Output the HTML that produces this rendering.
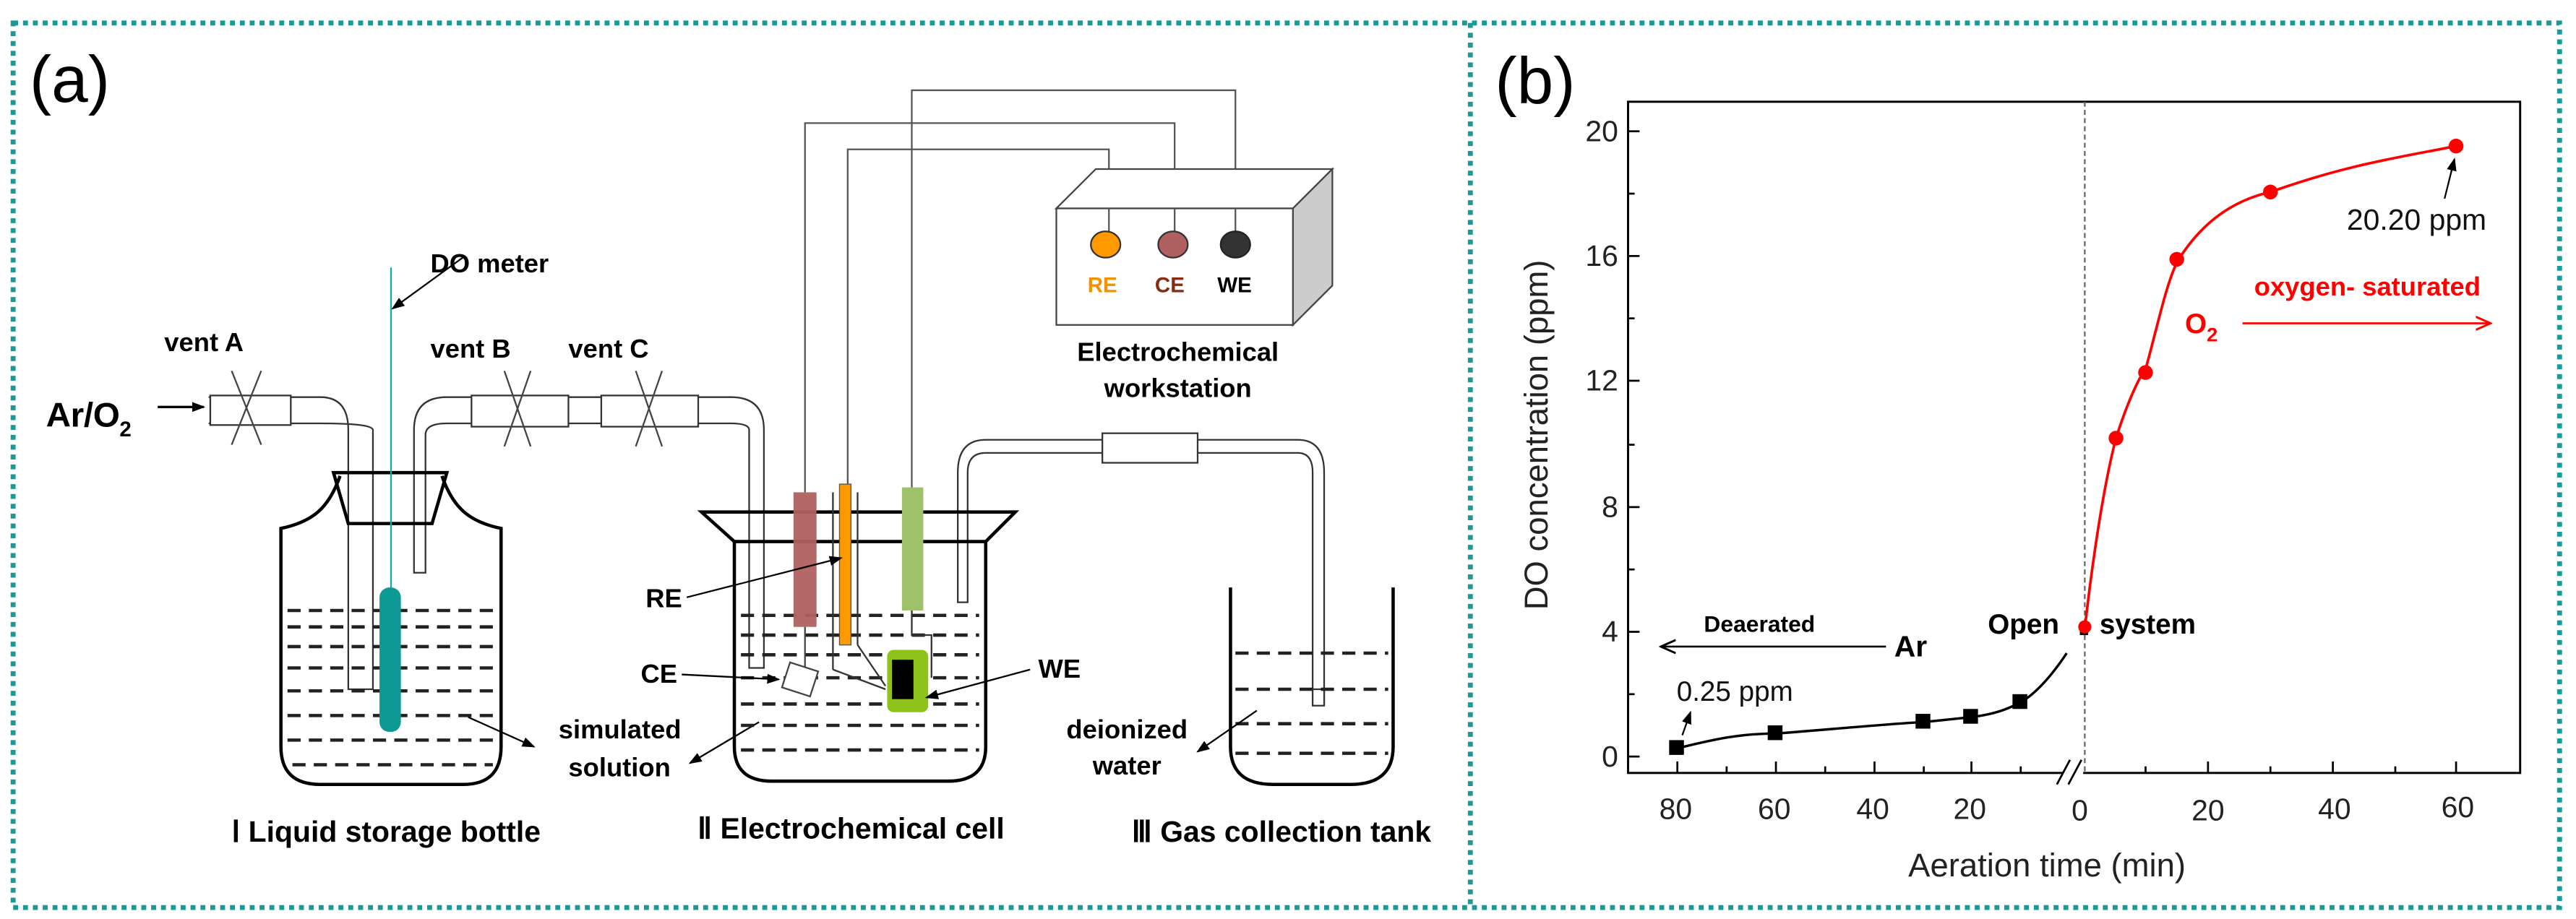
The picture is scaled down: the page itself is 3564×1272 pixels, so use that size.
<!DOCTYPE html>
<html><head><meta charset="utf-8"><style>
html,body{margin:0;padding:0;background:#fff;}
svg{display:block;}
text{font-family:"Liberation Sans",sans-serif;}
</style></head><body>
<svg width="3564" height="1272" viewBox="0 0 1568 560" preserveAspectRatio="none" xmlns="http://www.w3.org/2000/svg">
<defs>
<marker id="ah" markerWidth="8" markerHeight="8" refX="7" refY="4" orient="auto" markerUnits="userSpaceOnUse"><path d="M0,1 L8,4 L0,7 z" fill="#000"/></marker>
<marker id="ahr" markerWidth="10" markerHeight="10" refX="9" refY="5" orient="auto" markerUnits="userSpaceOnUse"><path d="M0,1 L9,5 L0,9" fill="none" stroke="#f00" stroke-width="1.3"/></marker>
<marker id="ahk" markerWidth="10" markerHeight="10" refX="9" refY="5" orient="auto" markerUnits="userSpaceOnUse"><path d="M0,1 L9,5 L0,9" fill="none" stroke="#000" stroke-width="1.3"/></marker>
</defs>
<!-- borders -->
<g fill="none" stroke="#1a9a96" stroke-width="3" stroke-dasharray="3 3">
<rect x="8" y="14" width="1550" height="539"/>
<line x1="895" y1="14" x2="895" y2="553"/>
</g>
<text x="18" y="62" font-size="40">(a)</text>
<text x="910" y="63" font-size="40">(b)</text>

<!-- Panel a -->
<g fill="none" stroke="#333" stroke-width="1">
<!-- inlet tube -->
<path d="M127,242 H195 Q212,242 212,262 V420 H227 V262 Q227,258 195,258 H127"/>
<rect x="128" y="241" width="49" height="18" fill="#fff"/>
<!-- bottle outlet tube to vents -->
<path d="M252,349 V262 Q252,242 272,242 H445 Q465,242 465,262 V407 H456 V262 Q456,258 445,258 H272 Q259,258 259,265 V349 Z"/>
<rect x="287" y="241" width="59" height="19" fill="#fff"/>
<rect x="366" y="241" width="59" height="19" fill="#fff"/>
<!-- cell outlet tube -->
<path d="M583,367 V288 Q583,268 600,268 H790 Q806,268 806,288 V429 H799 V288 Q799,276 790,276 H600 Q589,276 589,288 V367 Z"/>
<rect x="671" y="264" width="58" height="18" fill="#fff"/>
</g>
<g stroke="#444" stroke-width="1">
<line x1="141" y1="226" x2="159" y2="271"/><line x1="159" y1="226" x2="141" y2="271"/>
<line x1="307" y1="226" x2="323" y2="272"/><line x1="323" y1="226" x2="307" y2="272"/>
<line x1="387" y1="226" x2="403" y2="272"/><line x1="403" y1="226" x2="387" y2="272"/>
</g>
<text x="28" y="260" font-size="21" font-weight="bold" textLength="52">Ar/O<tspan font-size="13" dy="6">2</tspan></text>
<line x1="96" y1="248" x2="124" y2="248" stroke="#000" stroke-width="1.5" marker-end="url(#ah)"/>
<text x="100" y="214" font-size="16" font-weight="bold">vent A</text>
<text x="262" y="218" font-size="16" font-weight="bold">vent B</text>
<text x="346" y="218" font-size="16" font-weight="bold">vent C</text>

<!-- Bottle I -->
<g fill="none" stroke="#000" stroke-width="2">
<path d="M203,288 H272 L263,319 H212 Z"/>
<path d="M207,290 C200,310 190,318 171,322 V455 Q171,478 195,478 H282 Q305,478 305,455 V322 C286,318 276,310 269,290"/>
</g>
<g stroke="#222" stroke-width="2" stroke-dasharray="8 5">
<line x1="175" y1="372" x2="303" y2="372"/><line x1="175" y1="382" x2="303" y2="382"/>
<line x1="175" y1="394" x2="303" y2="394"/><line x1="175" y1="407" x2="303" y2="407"/>
<line x1="175" y1="421" x2="303" y2="421"/><line x1="175" y1="436" x2="303" y2="436"/>
<line x1="175" y1="451" x2="303" y2="451"/><line x1="178" y1="466" x2="300" y2="466"/>
</g>
<line x1="238" y1="163" x2="238" y2="360" stroke="#1aa" stroke-width="1"/>
<rect x="231" y="358" width="13" height="88" rx="6" fill="#0e9a94"/>
<text x="262" y="166" font-size="16" font-weight="bold">DO  meter</text>
<line x1="283" y1="156" x2="239" y2="188" stroke="#000" stroke-width="1" marker-end="url(#ah)"/>
<line x1="285" y1="437" x2="325" y2="455" stroke="#000" stroke-width="1" marker-end="url(#ah)"/>
<text x="340" y="450" font-size="16" font-weight="bold">simulated</text>
<text x="346" y="473" font-size="16" font-weight="bold">solution</text>
<line x1="462" y1="440" x2="420" y2="465" stroke="#000" stroke-width="1" marker-end="url(#ah)"/>

<!-- wires -->
<g fill="none" stroke="#555" stroke-width="1">
<path d="M490,300 V75 H715 V141"/>
<path d="M516,295 V91 H675 V141"/>
<path d="M555,297 V55 H752 V141"/>
</g>
<!-- workstation -->
<path d="M643,127 L667,103 H811 L787,127 Z" fill="#fff" stroke="#444"/>
<path d="M787,127 L811,103 V174 L787,198 Z" fill="#ccc" stroke="#444"/>
<rect x="643" y="127" width="144" height="71" fill="#fff" stroke="#444"/>
<g fill="none" stroke="#555" stroke-width="1">
<path d="M675,127 V141"/><path d="M715,127 V141"/><path d="M752,127 V141"/>
</g>
<ellipse cx="673" cy="149" rx="9" ry="8" fill="#f90" stroke="#333"/>
<ellipse cx="714" cy="149" rx="9" ry="8" fill="#b06060" stroke="#333"/>
<ellipse cx="752" cy="149" rx="9" ry="8" fill="#333" stroke="#222"/>
<text x="662" y="178" font-size="13" font-weight="bold" fill="#f39200">RE</text>
<text x="703" y="178" font-size="13" font-weight="bold" fill="#8a2b10">CE</text>
<text x="741" y="178" font-size="13" font-weight="bold" fill="#000">WE</text>
<text x="717" y="220" font-size="16" font-weight="bold" text-anchor="middle">Electrochemical</text>
<text x="717" y="242" font-size="16" font-weight="bold" text-anchor="middle">workstation</text>

<!-- Cell II -->
<path d="M427,312 H618 L600,330 H447 Z" fill="none" stroke="#000" stroke-width="2"/>
<path d="M447,330 V455 Q447,476 470,476 H577 Q600,476 600,455 V330" fill="none" stroke="#000" stroke-width="2"/>
<g stroke="#222" stroke-width="2" stroke-dasharray="8 5">
<line x1="451" y1="375" x2="596" y2="375"/><line x1="451" y1="387" x2="596" y2="387"/>
<line x1="451" y1="399" x2="596" y2="399"/><line x1="451" y1="413" x2="596" y2="413"/>
<line x1="451" y1="429" x2="596" y2="429"/><line x1="451" y1="442" x2="596" y2="442"/>
<line x1="451" y1="457" x2="596" y2="457"/>
</g>
<rect x="483" y="300" width="14" height="82" fill="#b06060" opacity="0.95"/>
<line x1="490" y1="382" x2="490" y2="410" stroke="#444"/>
<rect x="478" y="406" width="18" height="16" fill="#fff" stroke="#444" transform="rotate(18 487 414)"/>
<line x1="507" y1="300" x2="507" y2="408" stroke="#333"/>
<line x1="522" y1="300" x2="522" y2="393" stroke="#333"/>
<path d="M507,408 L539,420 M522,393 L539,418" stroke="#333" fill="none"/>
<rect x="511" y="295" width="7" height="98" fill="#f90" stroke="#555" stroke-width="0.6"/>
<rect x="549" y="297" width="13" height="75" fill="#9dc26a"/>
<path d="M555,372 V387 H567 V413" fill="none" stroke="#333"/>
<rect x="540" y="396" width="25" height="38" rx="4" fill="#8cc21a"/>
<rect x="543" y="402" width="13" height="24" fill="#000"/>
<text x="393" y="370" font-size="16" font-weight="bold">RE</text>
<line x1="418" y1="364" x2="512" y2="340" stroke="#000" stroke-width="1" marker-end="url(#ah)"/>
<text x="390" y="416" font-size="16" font-weight="bold">CE</text>
<line x1="415" y1="411" x2="474" y2="414" stroke="#000" stroke-width="1" marker-end="url(#ah)"/>
<text x="632" y="413" font-size="16" font-weight="bold">WE</text>
<line x1="627" y1="408" x2="564" y2="425" stroke="#000" stroke-width="1" marker-end="url(#ah)"/>

<!-- Tank III -->
<path d="M749,358 V455 Q749,478 775,478 H822 Q848,478 848,455 V358" fill="none" stroke="#000" stroke-width="2"/>
<rect x="799" y="420" width="7" height="10" fill="#fff" stroke="#333"/>
<g stroke="#222" stroke-width="2" stroke-dasharray="8 5">
<line x1="752" y1="398" x2="845" y2="398"/><line x1="752" y1="420" x2="845" y2="420"/>
<line x1="752" y1="441" x2="845" y2="441"/><line x1="752" y1="459" x2="845" y2="459"/>
</g>
<text x="686" y="450" font-size="16" font-weight="bold" text-anchor="middle">deionized</text>
<text x="686" y="472" font-size="16" font-weight="bold" text-anchor="middle">water</text>
<line x1="765" y1="433" x2="729" y2="458" stroke="#000" stroke-width="1" marker-end="url(#ah)"/>

<text x="235" y="513" font-size="18" font-weight="bold" text-anchor="middle">Ⅰ Liquid storage bottle</text>
<text x="518" y="511" font-size="18" font-weight="bold" text-anchor="middle">Ⅱ Electrochemical cell</text>
<text x="780" y="513" font-size="18" font-weight="bold" text-anchor="middle">Ⅲ Gas collection tank</text>

<!-- Panel b -->
<rect x="991" y="62" width="543" height="409" fill="none" stroke="#000" stroke-width="1.3"/>
<g stroke="#000" stroke-width="1.2">
<line x1="991" y1="461" x2="998" y2="461"/><line x1="991" y1="385" x2="998" y2="385"/>
<line x1="991" y1="309" x2="998" y2="309"/><line x1="991" y1="232" x2="998" y2="232"/>
<line x1="991" y1="156" x2="998" y2="156"/><line x1="991" y1="80" x2="998" y2="80"/>
<line x1="991" y1="423" x2="995" y2="423"/><line x1="991" y1="347" x2="995" y2="347"/>
<line x1="991" y1="271" x2="995" y2="271"/><line x1="991" y1="194" x2="995" y2="194"/>
<line x1="991" y1="118" x2="995" y2="118"/>
<line x1="1021" y1="471" x2="1021" y2="464"/><line x1="1081" y1="471" x2="1081" y2="464"/>
<line x1="1141" y1="471" x2="1141" y2="464"/><line x1="1200" y1="471" x2="1200" y2="464"/>
<line x1="1051" y1="471" x2="1051" y2="467"/><line x1="1111" y1="471" x2="1111" y2="467"/>
<line x1="1171" y1="471" x2="1171" y2="467"/><line x1="1230" y1="471" x2="1230" y2="467"/>
<line x1="1344" y1="471" x2="1344" y2="464"/><line x1="1420" y1="471" x2="1420" y2="464"/>
<line x1="1495" y1="471" x2="1495" y2="464"/>
<line x1="1306" y1="471" x2="1306" y2="467"/><line x1="1382" y1="471" x2="1382" y2="467"/>
<line x1="1458" y1="471" x2="1458" y2="467"/>
</g>
<rect x="1256" y="466" width="12" height="10" fill="#fff"/>
<line x1="1252" y1="478" x2="1260" y2="463" stroke="#000" stroke-width="1.2"/>
<line x1="1259" y1="478" x2="1267" y2="463" stroke="#000" stroke-width="1.2"/>
<line x1="1269" y1="62" x2="1269" y2="471" stroke="#666" stroke-width="1" stroke-dasharray="3 2"/>
<g font-size="18" text-anchor="end" fill="#222">
<text x="985" y="467">0</text><text x="985" y="391">4</text><text x="985" y="315">8</text>
<text x="985" y="238">12</text><text x="985" y="162">16</text><text x="985" y="86">20</text>
</g>
<g font-size="18" text-anchor="middle" fill="#222">
<text x="1020" y="499">80</text><text x="1080" y="499">60</text><text x="1140" y="499">40</text>
<text x="1199" y="499">20</text><text x="1266" y="500">0</text><text x="1344" y="500">20</text>
<text x="1421" y="499">40</text><text x="1496" y="498">60</text>
</g>
<text x="1246" y="534" font-size="20" text-anchor="middle" fill="#222">Aeration time (min)</text>
<text transform="translate(942,265) rotate(-90)" font-size="20" text-anchor="middle" fill="#222">DO concentration (ppm)</text>

<path d="M1021,456 C1045,450 1060,447 1081,447 C1120,444 1150,441 1171,440 L1200,437 C1215,435 1222,432 1230,428 C1240,422 1250,410 1258,398" fill="none" stroke="#000" stroke-width="1.5"/>
<g fill="#000">
<rect x="1016" y="451" width="9" height="9"/><rect x="1076" y="442" width="9" height="9"/>
<rect x="1166" y="435" width="9" height="9"/><rect x="1195" y="432" width="9" height="9"/>
<rect x="1225" y="423" width="9" height="9"/><rect x="1266" y="379" width="5" height="8"/>
</g>
<path d="M1269,383 C1275,330 1282,290 1288,267 C1295,245 1302,230 1306,225 C1313,200 1318,175 1325,160 C1340,135 1360,122 1382,117 C1430,100 1460,96 1495,89" fill="none" stroke="#f00" stroke-width="1.6"/>
<g fill="#f00">
<circle cx="1269" cy="382" r="4"/><circle cx="1288" cy="267" r="4.5"/><circle cx="1306" cy="227" r="4.5"/>
<circle cx="1325" cy="158" r="4.5"/><circle cx="1382" cy="117" r="4.5"/><circle cx="1495" cy="89" r="4.5"/>
</g>
<text x="1471" y="140" font-size="18" text-anchor="middle" fill="#111">20.20 ppm</text>
<line x1="1488" y1="121" x2="1494" y2="97" stroke="#000" stroke-width="1" marker-end="url(#ah)"/>
<text x="1441" y="180" font-size="16" font-weight="bold" text-anchor="middle" fill="#f00">oxygen- saturated</text>
<text x="1330" y="203" font-size="17" font-weight="bold" fill="#f00">O<tspan font-size="12" dy="5">2</tspan></text>
<line x1="1365" y1="197" x2="1516" y2="197" stroke="#f00" stroke-width="1.2" marker-end="url(#ahr)"/>
<text x="1071" y="385" font-size="14" font-weight="bold" text-anchor="middle">Deaerated</text>
<line x1="1148" y1="394" x2="1011" y2="394" stroke="#000" stroke-width="1.2" marker-end="url(#ahk)"/>
<text x="1153" y="400" font-size="18" font-weight="bold">Ar</text>
<text x="1210" y="386" font-size="17" font-weight="bold">Open</text>
<text x="1278" y="386" font-size="17" font-weight="bold">system</text>
<text x="1056" y="427" font-size="17" text-anchor="middle" fill="#111">0.25 ppm</text>
<line x1="1024" y1="448" x2="1029" y2="434" stroke="#000" stroke-width="1" marker-end="url(#ah)"/>
</svg>
</body></html>
